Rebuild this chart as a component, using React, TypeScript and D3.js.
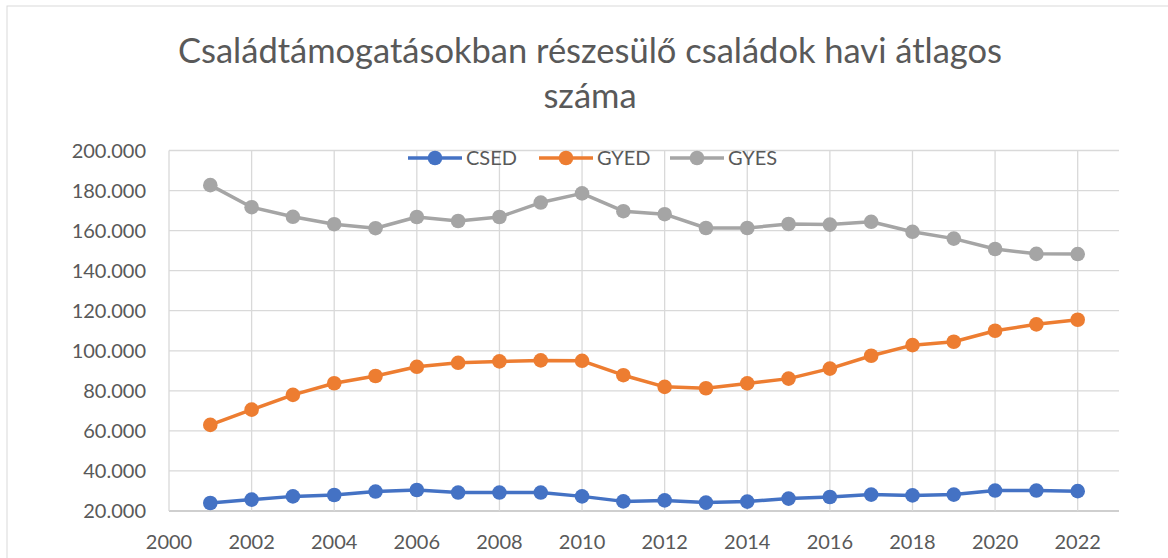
import React from 'react';
import * as d3 from 'd3';

// adatok (2001-2022)
const years = [2001, 2002, 2003, 2004, 2005, 2006, 2007, 2008, 2009, 2010, 2011,
  2012, 2013, 2014, 2015, 2016, 2017, 2018, 2019, 2020, 2021, 2022];
const csed = [24000, 25700, 27300, 28000, 29700, 30500, 29200, 29200, 29200, 27300, 24800,
  25300, 24200, 24700, 26200, 27000, 28200, 27800, 28200, 30200, 30200, 29900];
const gyed = [63000, 70600, 78000, 83800, 87400, 92000, 94000, 94700, 95200, 95000, 87800,
  82000, 81300, 83700, 86100, 91100, 97500, 102800, 104500, 110000, 113200, 115500];
const gyes = [182700, 171700, 166900, 163200, 161200, 166800, 164800, 166800, 174000, 178600, 169700,
  168200, 161300, 161300, 163300, 163000, 164400, 159400, 156000, 150800, 148400, 148300];

const seriesNames = ['CSED', 'GYED', 'GYES'];
const seriesColors = ['#4472C4', '#ED7D31', '#A5A5A5'];
const yTicks = [20000, 40000, 60000, 80000, 100000, 120000, 140000, 160000, 180000, 200000];
const xTicks = [2000, 2002, 2004, 2006, 2008, 2010, 2012, 2014, 2016, 2018, 2020, 2022];
const titleLines = ['Családtámogatásokban részesülő családok havi átlagos', 'száma'];

const W = 1168;
const H = 558;
const font = 'Lato, "Open Sans", sans-serif';

const App = () => {
  const x = d3.scaleLinear().domain([2000, 2023]).range([169, 1119]);
  const y = d3.scaleLinear().domain([20000, 200000]).range([511, 150.5]);
  const fmt = (v: number) => d3.format(',')(v).replace(/,/g, '.');

  const allSeries = [csed, gyed, gyes];
  const line = d3.line<number>()
    .x((_, i) => x(years[i]))
    .y(d => y(d));

  const legendX = d3.scaleBand().domain(seriesNames).range([408, 801]);

  return (
    <div style={{ position: 'absolute', left: 0, top: 0 }}>
      <svg width={W} height={H} style={{ display: 'block', fontFamily: font }}>
        <rect x={0} y={0} width={W} height={H} fill="#fff" />
        <rect x={7} y={6} width={W + 10} height={H + 10} fill="none" stroke="#d9d9d9" strokeWidth={1} />

        {titleLines.map((t, i) => (
          <text key={i} x={590} y={63 + i * 45} textAnchor="middle" fontSize={34.5} fill="#595959">{t}</text>
        ))}

        {/* rács */}
        {yTicks.map(t => (
          <line key={'h' + t} x1={169} x2={1119} y1={y(t)} y2={y(t)}
            stroke={t === 20000 ? '#bfbfbf' : '#d9d9d9'} strokeWidth={1.3} />
        ))}
        {xTicks.map(t => (
          <line key={'v' + t} x1={x(t)} x2={x(t)} y1={y(200000)} y2={y(20000)}
            stroke="#d9d9d9" strokeWidth={1.3} />
        ))}

        {yTicks.map(t => (
          <text key={'yl' + t} x={146} y={y(t)} dy="0.36em" textAnchor="end" fontSize={20} fill="#595959">{fmt(t)}</text>
        ))}
        {xTicks.map(t => (
          <text key={'xl' + t} x={x(t)} y={549} textAnchor="middle" fontSize={20} fill="#595959">{t}</text>
        ))}

        {allSeries.map((s, k) => (
          <g key={seriesNames[k]}>
            <path d={line(s) || ''} fill="none" stroke={seriesColors[k]} strokeWidth={3.5} strokeLinejoin="round" />
            {s.map((v, i) => (
              <circle key={i} cx={x(years[i])} cy={y(v)} r={7.3} fill={seriesColors[k]} />
            ))}
          </g>
        ))}

        {/* jelmagyarázat */}
        {seriesNames.map((n, k) => {
          const lx = legendX(n) || 0;
          return (
            <g key={'lg' + n}>
              <line x1={lx} x2={lx + 54} y1={158} y2={158} stroke={seriesColors[k]} strokeWidth={3.5} />
              <circle cx={lx + 27} cy={158} r={7.3} fill={seriesColors[k]} />
              <text x={lx + 58} y={158} dy="0.36em" fontSize={20} fill="#595959">{n}</text>
            </g>
          );
        })}
      </svg>
    </div>
  );
};

export default App;
